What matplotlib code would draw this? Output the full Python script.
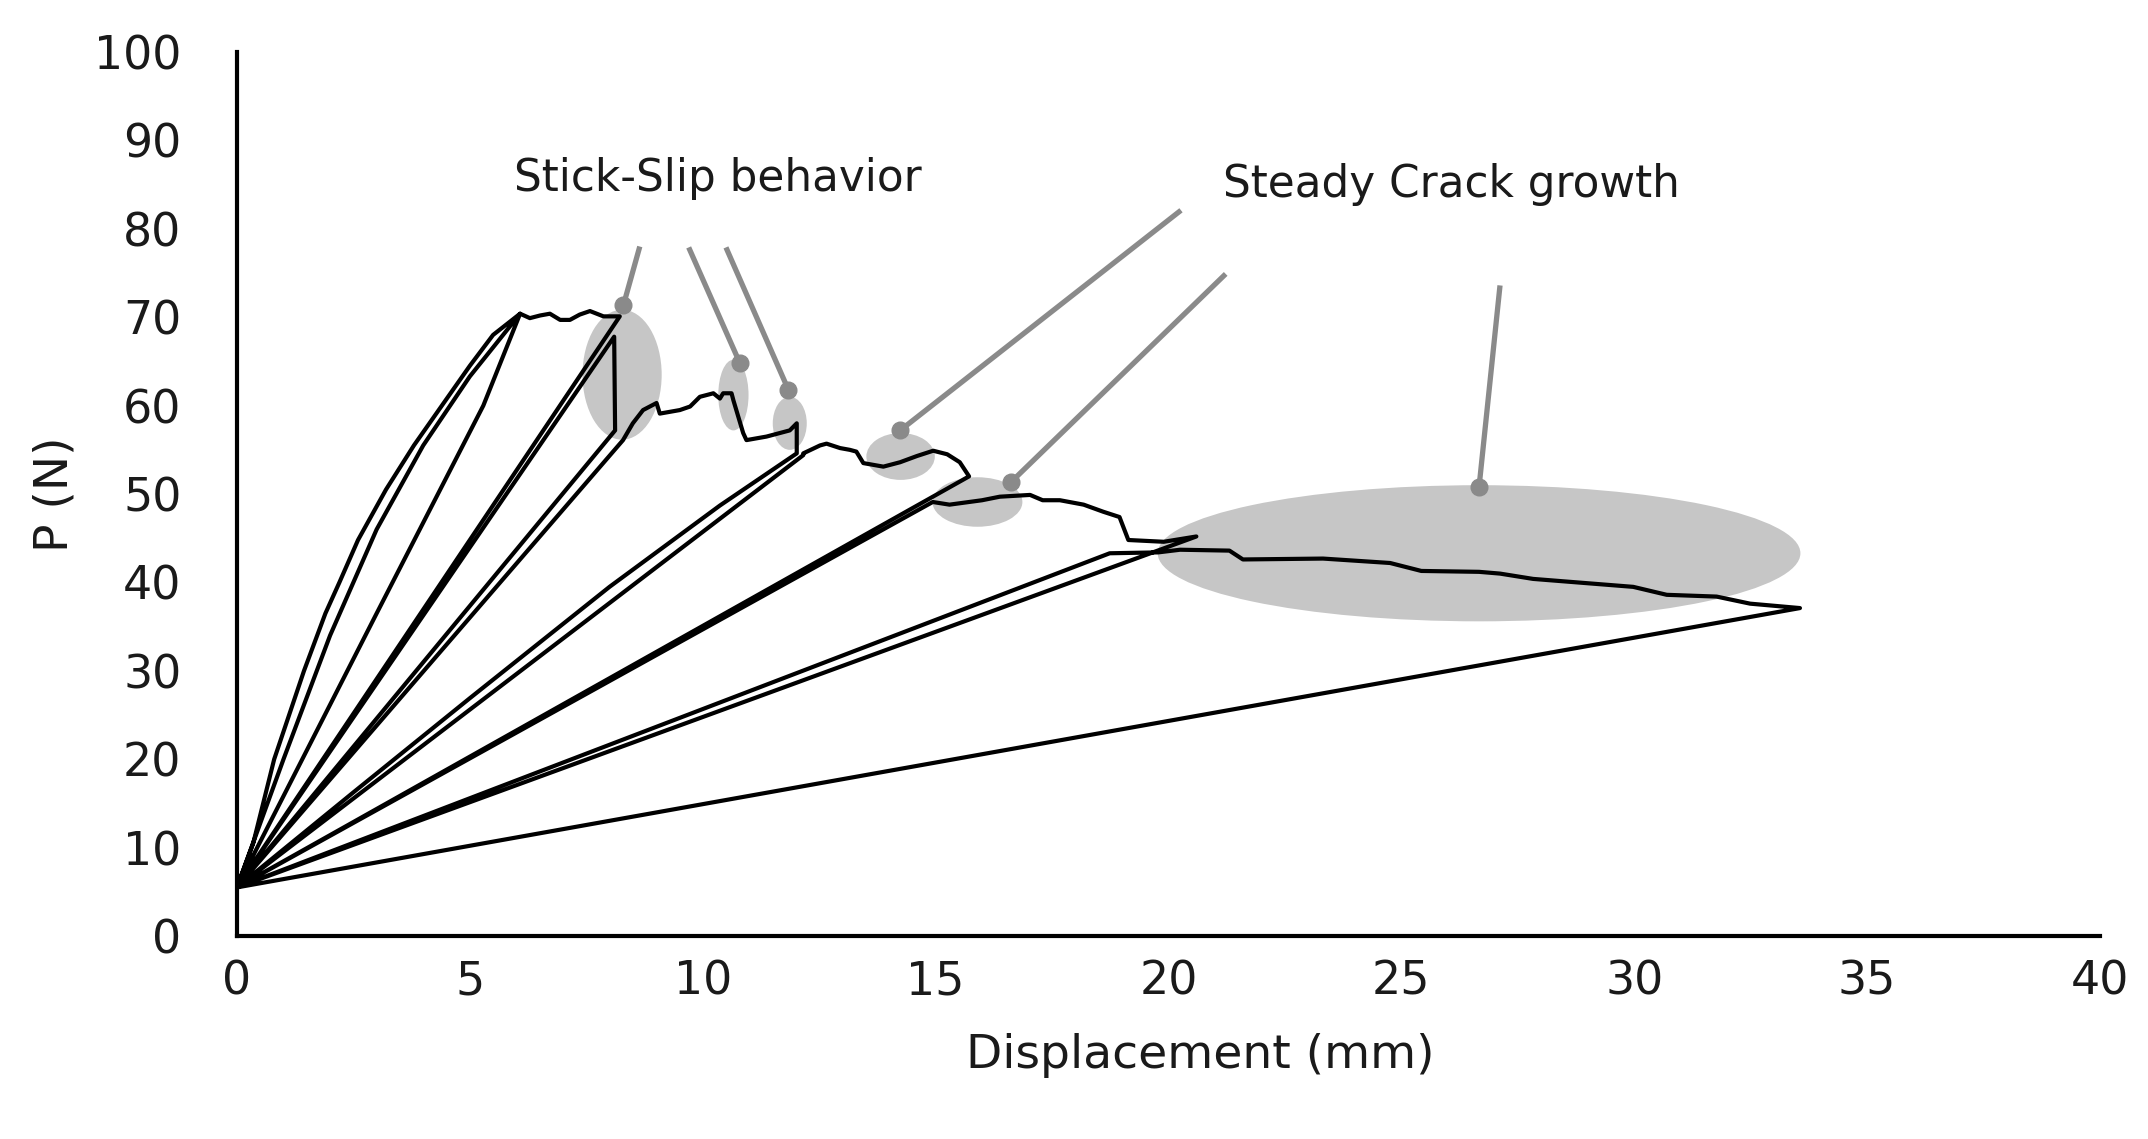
import numpy as np
import matplotlib
matplotlib.use("Agg")
import matplotlib.pyplot as plt
from matplotlib.patches import Ellipse

plt.rcParams['font.family'] = ['DejaVu Sans']

# ---- data: load-displacement path, segment by segment ----
load1_x = [0, 0.35, 0.8, 1.44, 1.9, 2.2, 2.6, 3.2, 3.8, 4.4, 5.0, 5.5, 6.08]
load1_y = [5.5, 10.5, 20, 30, 36.5, 40, 44.8, 50.5, 55.5, 60, 64.5, 68, 70.4]
unload1_x = [6.08, 5.0, 4.0, 3.0, 2.0, 1.0, 0]
unload1_y = [70.4, 63.3, 55.5, 46.0, 34.0, 20.0, 5.5]
reload1_x = [0, 3.0, 5.29, 6.08]
reload1_y = [5.5, 36.5, 60.0, 70.4]
plateau1_x = [6.08, 6.29, 6.51, 6.72, 6.94, 7.15, 7.36, 7.58, 7.87, 8.22]
plateau1_y = [70.4, 69.9, 70.2, 70.4, 69.7, 69.7, 70.3, 70.7, 70.1, 70.1]
unload2_x = [8.22, 0]
unload2_y = [70.1, 5.5]
reload2_x = [0, 8.1]
reload2_y = [5.5, 67.8]
drop1_x = [8.1, 8.12]
drop1_y = [67.8, 57.2]
unload3_x = [8.12, 0]
unload3_y = [57.2, 5.5]
reload3_x = [0, 8.29]
reload3_y = [5.5, 56.1]
prop2_x = [8.29, 8.5, 8.72, 9.01, 9.08, 9.51, 9.73, 9.94, 10.23, 10.37, 10.44,
           10.62, 10.66, 10.87, 10.94, 11.37, 11.87, 12.02, 12.02]
prop2_y = [56.1, 58.0, 59.5, 60.3, 59.1, 59.5, 59.9, 61.0, 61.4, 60.8, 61.4,
           61.4, 60.6, 56.9, 56.1, 56.5, 57.2, 58.0, 54.6]
unload4_x = [12.02, 10.37, 8.0, 5.0, 2.5, 0]
unload4_y = [54.6, 48.7, 39.5, 26.9, 16.25, 5.5]
reload4_x = [0, 12.16]
reload4_y = [5.5, 54.4]
prop3_x = [12.16, 12.52, 12.66, 12.95, 13.16, 13.3, 13.45, 13.88, 14.24, 14.6,
           14.95, 15.25, 15.52, 15.72]
prop3_y = [54.6, 55.5, 55.7, 55.2, 55.0, 54.8, 53.5, 53.1, 53.6, 54.3,
           54.9, 54.5, 53.6, 52.0]
unload5_x = [15.72, 0]
unload5_y = [52.0, 5.5]
reload5_x = [0, 14.94]
reload5_y = [5.5, 49.1]
prop4_x = [14.94, 15.3, 16.0, 16.38, 17.03, 17.3, 17.67, 18.18, 18.6, 18.95,
           19.14, 19.9, 20.6]
prop4_y = [49.1, 48.8, 49.3, 49.7, 49.9, 49.3, 49.3, 48.8, 48.0, 47.4,
           44.8, 44.6, 45.2]
unload6_x = [20.6, 0]
unload6_y = [45.2, 5.5]
reload6_x = [0, 18.74]
reload6_y = [5.5, 43.3]
prop5_x = [18.74, 19.78, 20.25, 21.31, 21.6, 23.32, 24.76, 25.43, 26.67, 27.12,
           27.83, 29.98, 30.7, 31.77, 32.49, 33.56]
prop5_y = [43.3, 43.4, 43.7, 43.6, 42.6, 42.7, 42.2, 41.3, 41.2, 41.0,
           40.4, 39.5, 38.6, 38.4, 37.6, 37.1]
unload7_x = [33.56, 0]
unload7_y = [37.1, 5.5]

segments_x = [load1_x, unload1_x, reload1_x, plateau1_x, unload2_x, reload2_x,
              drop1_x, unload3_x, reload3_x, prop2_x, unload4_x, reload4_x,
              prop3_x, unload5_x, reload5_x, prop4_x, unload6_x, reload6_x,
              prop5_x, unload7_x]
segments_y = [load1_y, unload1_y, reload1_y, plateau1_y, unload2_y, reload2_y,
              drop1_y, unload3_y, reload3_y, prop2_y, unload4_y, reload4_y,
              prop3_y, unload5_y, reload5_y, prop4_y, unload6_y, reload6_y,
              prop5_y, unload7_y]

# highlight ellipses (centre x, centre y, width, height)
ell_cx = [8.27, 10.66, 11.87, 14.25, 15.9, 26.67]
ell_cy = [63.5, 61.2, 58.0, 54.25, 49.1, 43.3]
ell_w = [1.7, 0.65, 0.73, 1.47, 1.93, 13.8]
ell_h = [14.7, 8.0, 6.0, 5.3, 5.6, 15.4]

# leader lines (from dot to far end)
lead_x0 = [8.30, 10.80, 11.84, 14.24, 16.63, 26.67]
lead_y0 = [71.4, 64.8, 61.8, 57.2, 51.4, 50.8]
lead_x1 = [8.65, 9.70, 10.50, 20.27, 21.23, 27.12]
lead_y1 = [78.0, 77.9, 77.9, 82.1, 74.9, 73.6]

labels = ["Stick-Slip behavior", "Steady Crack growth"]
label_x = [10.33, 26.07]
label_y = [85.7, 85.0]

xticks = [0, 5, 10, 15, 20, 25, 30, 35, 40]
yticks = [0, 10, 20, 30, 40, 50, 60, 70, 80, 90, 100]

# ---- figure ----
fig = plt.figure(figsize=(21.48, 11.39), dpi=100)
ax = fig.add_axes([0.1103, 0.1782, 0.8673, 0.7761])

for cx, cy, w, h in zip(ell_cx, ell_cy, ell_w, ell_h):
    ax.add_patch(Ellipse((cx, cy), w, h, facecolor='#c6c6c6', edgecolor='none', zorder=1))

for x0, y0, x1, y1 in zip(lead_x0, lead_y0, lead_x1, lead_y1):
    ax.plot([x0, x1], [y0, y1], color='#8a8a8a', lw=3.8, solid_capstyle='butt', zorder=2)
    ax.plot([x0], [y0], 'o', color='#8a8a8a', ms=12, zorder=2)

px = np.concatenate([np.asarray(s, float) for s in segments_x])
py = np.concatenate([np.asarray(s, float) for s in segments_y])
ax.plot(px, py, color='black', lw=3.0, solid_joinstyle='round', zorder=3)

for t, x, y in zip(labels, label_x, label_y):
    ax.text(x, y, t, ha='center', va='center', fontsize=31.5, color='#1a1a1a')

ax.set_xlim(0, 40)
ax.set_ylim(0, 100)
ax.set_xticks(xticks)
ax.set_yticks(yticks)
ax.tick_params(axis='both', length=0, labelsize=33, colors='#1a1a1a')
ax.tick_params(axis='y', pad=40)
ax.tick_params(axis='x', pad=17)
for s in ['top', 'right']:
    ax.spines[s].set_visible(False)
for s in ['left', 'bottom']:
    ax.spines[s].set_linewidth(3.0)
    ax.spines[s].set_color('black')

ax.set_xlabel("Displacement (mm)", fontsize=34, color='#1a1a1a')
ax.set_ylabel("P (N)", fontsize=34, color='#1a1a1a')
ax.xaxis.label.set_verticalalignment('center')
ax.yaxis.label.set_verticalalignment('center')
ax.xaxis.set_label_coords(0.517, -0.1346)
ax.yaxis.set_label_coords(-0.0977, 0.50)

fig.savefig("out.png", dpi=100)
